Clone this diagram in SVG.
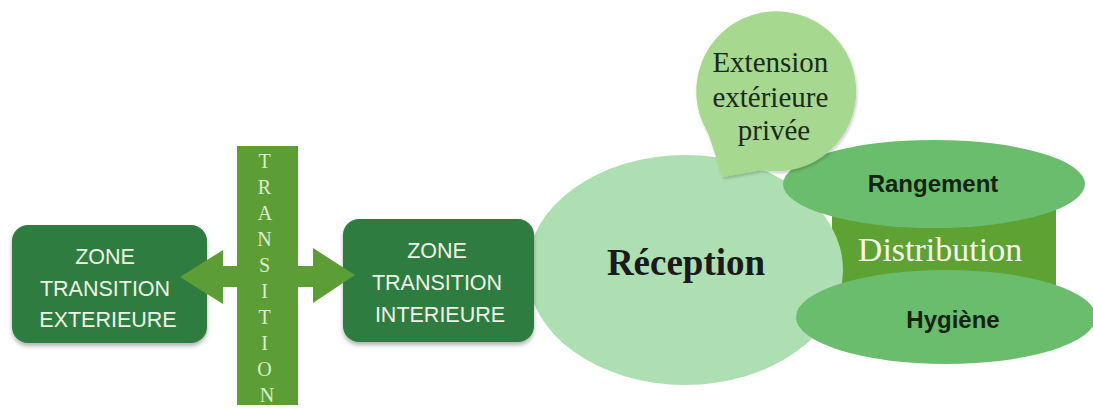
<svg xmlns="http://www.w3.org/2000/svg" width="1093" height="409" viewBox="0 0 1093 409">
  <style>
    .zone { fill: #2f7b40; }
    .zt { font-family: "Liberation Sans", Arial, sans-serif; font-size: 21.5px; fill: #eef3e6; text-anchor: middle; }
    .bar { fill: #5c9e35; }
    .vt { font-family: "Liberation Serif", "Times New Roman", serif; font-size: 20px; fill: #dcedcb; text-anchor: middle; }
    .oval { fill: #6abd6d; }
    .ot { font-family: "Liberation Sans", Arial, sans-serif; font-weight: bold; font-size: 24px; fill: #142414; text-anchor: middle; }
    .serif { font-family: "Liberation Serif", "Times New Roman", serif; text-anchor: middle; }
  </style>
  <defs>
    <filter id="sh" x="-10%" y="-10%" width="120%" height="130%">
      <feDropShadow dx="0" dy="3" stdDeviation="2" flood-color="#000" flood-opacity="0.3"/>
    </filter>
    <filter id="sh2" x="-10%" y="-10%" width="120%" height="130%">
      <feDropShadow dx="1" dy="2" stdDeviation="1.5" flood-color="#000" flood-opacity="0.2"/>
    </filter>
  </defs>
  <rect width="1093" height="409" fill="#ffffff"/>

  <g id="distribution">
    <rect x="832" y="208" width="224" height="80" fill="#5ea233"/>
  </g>

  <g id="reception">
    <ellipse cx="685" cy="270" rx="158" ry="115" fill="#addfb3"/>
    <text class="serif" x="686" y="275" font-size="37" font-weight="bold" fill="#1a1a1a">Réception</text>
  </g>

  <g id="distribution-label">
    <text class="serif" x="940" y="261" font-size="34" fill="#f2f7ea">Distribution</text>
  </g>

  <g id="rangement">
    <ellipse class="oval" cx="934" cy="184" rx="151" ry="44"/>
    <text class="ot" x="933" y="192">Rangement</text>
  </g>

  <g id="hygiene">
    <ellipse class="oval" cx="946" cy="317" rx="150" ry="47"/>
    <text class="ot" x="953" y="328">Hygiène</text>
  </g>

  <g id="extension">
    <path d="M 708 133 L 723 177 L 762 170 A 80 80 0 1 0 708 133 Z" fill="#a6d98f" filter="url(#sh2)"/>
    <text class="serif" font-size="29" fill="#1c2a1c">
      <tspan x="774" y="72">Extension</tspan>
      <tspan x="774" y="107">extérieure</tspan>
      <tspan x="774" y="140">privée</tspan>
    </text>
  </g>

  <g id="zone-exterieure">
    <rect class="zone" x="12" y="225" width="195" height="118" rx="16" filter="url(#sh)"/>
    <text class="zt">
      <tspan x="108" y="264">ZONE</tspan>
      <tspan x="108" y="296">TRANSITION</tspan>
      <tspan x="108" y="327">EXTERIEURE</tspan>
    </text>
  </g>

  <g id="zone-interieure">
    <rect class="zone" x="343" y="219" width="191" height="123" rx="16" filter="url(#sh)"/>
    <text class="zt">
      <tspan x="440" y="258">ZONE</tspan>
      <tspan x="440" y="290">TRANSITION</tspan>
      <tspan x="440" y="322">INTERIEURE</tspan>
    </text>
  </g>

  <g id="connectors">
    <path class="bar" d="M 180 277 L 223 250 L 223 266 L 313 266 L 313 248 L 355 275 L 313 303 L 313 287 L 223 287 L 223 304 Z"/>
  </g>

  <g id="transition">
    <rect class="bar" x="237" y="146" width="61" height="259"/>
    <text class="vt">
      <tspan x="267" y="168">T</tspan>
      <tspan x="267" y="194">R</tspan>
      <tspan x="267" y="220">A</tspan>
      <tspan x="267" y="246">N</tspan>
      <tspan x="267" y="272">S</tspan>
      <tspan x="267" y="298">I</tspan>
      <tspan x="267" y="324">T</tspan>
      <tspan x="267" y="350">I</tspan>
      <tspan x="267" y="376">O</tspan>
      <tspan x="267" y="402">N</tspan>
    </text>
  </g>
</svg>
